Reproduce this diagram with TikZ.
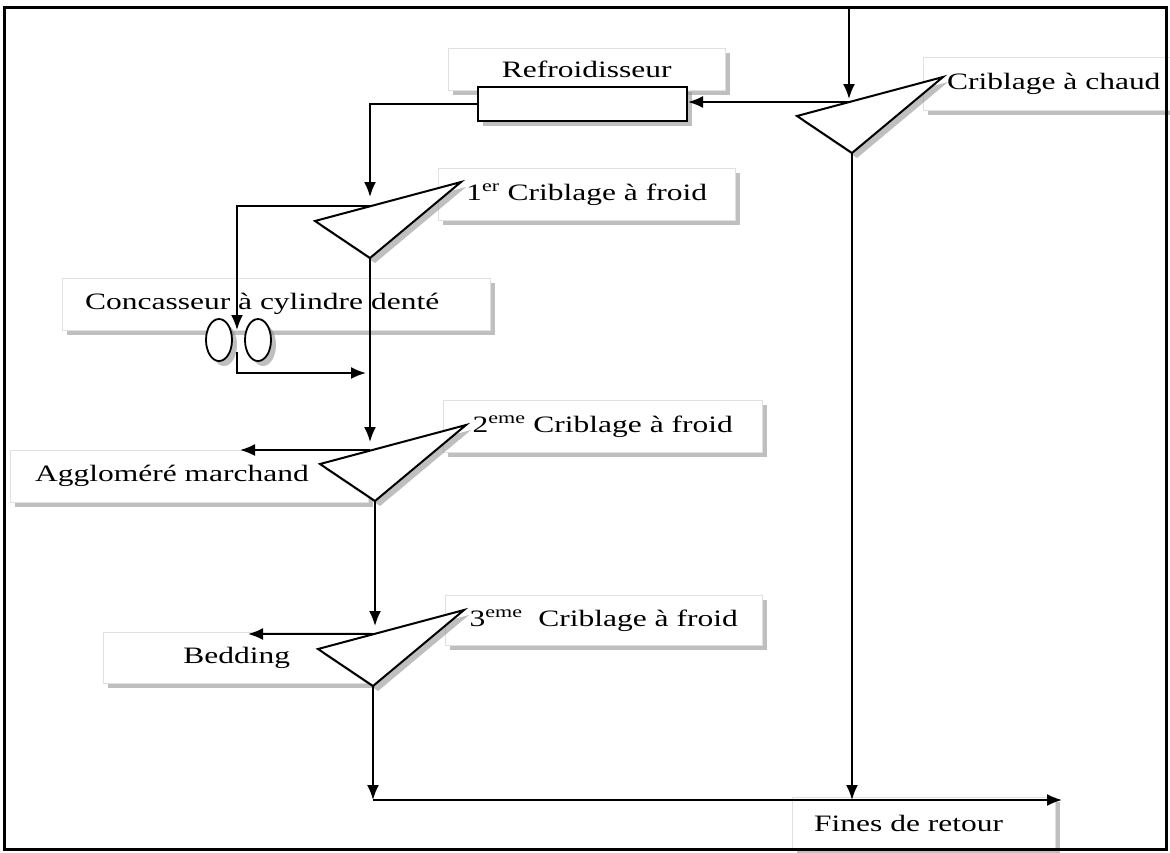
\documentclass[tikz,border=0pt]{standalone}
\usepackage{fontspec}
\setmainfont{Liberation Serif}[FakeStretch=1.34]
\usetikzlibrary{arrows.meta,shadows,shapes.geometric,calc}
\begin{document}
\begin{tikzpicture}[x=1pt,y=-1pt,
  shd/.style={drop shadow={shadow xshift=5pt,shadow yshift=-5pt,fill=black!45,opacity=0.55}},
  lbox/.style={draw=black!12, fill=white, shd, anchor=north west, font=\fontsize{23.5}{28}\selectfont, inner sep=0pt},
  lleft/.style={align=left, inner xsep=24pt},
  tri/.style={draw=black, fill=white, line width=2pt, line join=miter, shd},
  rectbox/.style={draw=black, fill=white, line width=2pt, shd, minimum width=209pt, minimum height=34pt, inner sep=0pt},
  roll/.style={ellipse, draw=black, fill=white, line width=1.8pt, minimum width=26pt, minimum height=42pt, inner sep=0pt, shd},
  ln/.style={line width=1.9pt},
  arr/.style={ln, -{Latex[length=15pt,width=12pt]}},
  frame/.style={draw=black, line width=3pt}]
\useasboundingbox (0,0) rectangle (1170,852);
\fill[white] (0,0) rectangle (1170,852);

% label boxes
\node[lbox, minimum width=277pt, minimum height=42pt] (Lref) at (448,48) {Refroidisseur};
\node[lbox, lleft, text width=230pt, minimum height=53pt] (Lhot) at (923,57) {Criblage à chaud};
\node[lbox, minimum width=297pt, minimum height=52pt] (L1) at (438,168) {1\textsuperscript{er} Criblage à froid};
\node[lbox, lleft, inner xsep=23pt, text width=382pt, minimum height=52pt] (Lcon) at (62,278) {Concasseur à cylindre denté};
\node[lbox, minimum width=319pt, minimum height=52pt] (L2) at (443,400) {2\textsuperscript{eme} Criblage à froid};
\node[lbox, lleft, inner xsep=25pt, text width=308pt, minimum height=52pt] (Lagg) at (10,450) {Aggloméré marchand};
\node[lbox, minimum width=317pt, minimum height=50pt] (L3) at (445,595) {3\textsuperscript{eme}\ \ Criblage à froid};
\node[lbox, minimum width=267pt, minimum height=51pt] (Lbed) at (103,632) {Bedding};
\node[lbox, lleft, inner xsep=22pt, text width=219pt, minimum height=53pt] (Lfin) at (792,797) {Fines de retour};

% cooler
\node[rectbox] (rect) at (582.5,104) {};

% screens (triangles)
\coordinate (Ha) at (943,77);  \coordinate (Hl) at (797,116); \coordinate (Hb) at (852,153);
\coordinate (Aa) at (461,182); \coordinate (Al) at (315,221); \coordinate (Ab) at (370,258);
\coordinate (Ba) at (466,425); \coordinate (Bl) at (320,464); \coordinate (Bb) at (375,501);
\coordinate (Ca) at (464,610); \coordinate (Cl) at (318,649); \coordinate (Cb) at (373,686);
\draw[tri] (Ha) -- (Hl) -- (Hb) -- cycle;
\draw[tri] (Aa) -- (Al) -- (Ab) -- cycle;
\draw[tri] (Ba) -- (Bl) -- (Bb) -- cycle;
\draw[tri] (Ca) -- (Cl) -- (Cb) -- cycle;

% points on top edges
\coordinate (eh) at (849,102);
\coordinate (e1) at (370,206);
\coordinate (e2) at (370,450);
\coordinate (e3) at (375,634);

% crusher rolls
\node[roll] (r1) at (219,340) {};
\node[roll] (r2) at (258,340) {};

% free ends
\coordinate (top) at (849,7);
\coordinate (c1) at (237,206);
\coordinate (crin) at (237,330);
\coordinate (crout) at (237,352);
\coordinate (crret) at (366,373);
\coordinate (agg) at (240,450);
\coordinate (bed) at (248,634);
\coordinate (j) at (373,800);
\coordinate (fin) at (1062,800);
\coordinate (hj) at (852,800);

% connectors
\draw[arr, shorten >=3pt] (top) -- (eh);
\draw[arr] (eh) -- (eh -| rect.east);
\draw[arr, shorten >=9pt] (rect.west) -| (e1);
\draw[arr] (e1) -- (c1) -- (crin);
\draw[arr] (crout) |- (crret);
\draw[arr, shorten >=8pt] (Ab) -- (e2);
\draw[arr] (e2) -- (agg);
\draw[arr, shorten >=8pt] (Bb) -- (e3);
\draw[arr] (e3) -- (bed);
\draw[arr] (Cb) -- (j);
\draw[arr] (j) -- (fin);
\draw[arr] (Hb) -- (hj);

% outer frame
\draw[frame] (4,7) rectangle (1166,849);
\end{tikzpicture}
\end{document}
